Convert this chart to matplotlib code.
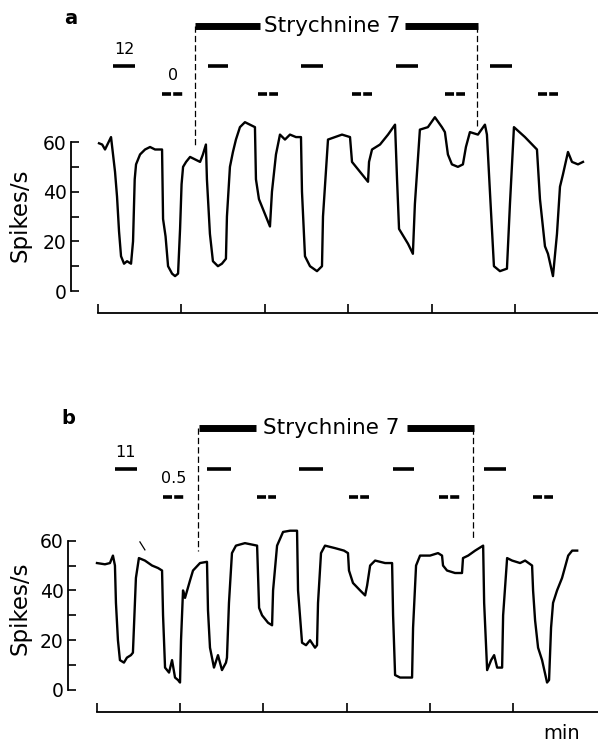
import matplotlib
matplotlib.use("Agg")
import matplotlib.pyplot as plt

# --- data (time in min, rate in spikes/s) ---
t_a = [0.06, 0.25, 0.42, 0.60, 0.78, 0.90, 1.02, 1.14, 1.26, 1.38, 1.56, 1.74, 1.98, 2.10, 2.20,
       2.28, 2.52, 2.82, 3.12, 3.42, 3.84, 3.90, 4.05, 4.20, 4.44, 4.62, 4.80, 4.92, 5.01, 5.10,
       5.28, 5.52, 5.82, 6.12, 6.29, 6.47, 6.53, 6.71, 6.89, 7.19, 7.43, 7.67, 7.73, 7.91, 8.09,
       8.27, 8.51, 8.81, 9.11, 9.41, 9.47, 9.65, 9.95, 10.31, 10.43, 10.67, 10.91, 11.21, 11.51,
       11.87, 12.17, 12.23, 12.41, 12.71, 13.13, 13.43, 13.49, 13.79, 14.21, 14.63, 15.11, 15.23,
       15.71, 16.19, 16.25, 16.43, 16.91, 17.39, 17.81, 17.93, 18.05, 18.23, 18.59, 18.88, 19.00,
       19.30, 19.78, 20.20, 20.62, 20.80, 20.98, 21.22, 21.58, 21.88, 22.06, 22.30, 22.78, 23.20,
       23.32, 23.50, 23.74, 24.10, 24.52, 24.70, 24.94, 25.60, 26.32, 26.50, 26.80, 26.98, 27.28,
       27.52, 27.70, 27.88, 28.18, 28.42, 28.78, 29.08]
rate_a = [59.5, 59, 57, 59.5, 62, 55, 48, 38, 24, 14, 11, 12, 11, 20, 45,
          51, 55, 57, 58, 57, 57, 29, 22, 10, 7, 6, 7, 25, 43, 50,
          52, 54, 53, 52, 55, 59, 45, 23, 12, 10, 11, 13, 30, 50, 56,
          61, 66, 68, 67, 66, 45, 37, 32, 26, 40, 55, 63, 61, 63,
          62, 62, 40, 14, 10, 8, 10, 30, 61, 62, 63, 62, 52,
          48, 44, 52, 57, 59, 63, 67, 45, 25, 23, 19, 15, 35,
          65, 66, 70, 66, 64, 55, 51, 50, 51, 58, 64, 63, 67,
          63, 40, 10, 8, 9, 35, 66, 62, 57, 37, 18, 15, 6,
          23, 42, 47, 56, 52, 51, 52]

t_b = [0.00, 0.48, 0.78, 0.96, 1.08, 1.14, 1.26, 1.38, 1.62, 1.80, 2.04, 2.16, 2.22, 2.34, 2.52,
       2.88, 3.31, 3.67, 3.91, 3.97, 4.09, 4.33, 4.51, 4.69, 4.87, 4.99, 5.05, 5.17, 5.29, 5.59,
       5.77, 6.19, 6.61, 6.67, 6.79, 7.03, 7.27, 7.51, 7.75, 7.81, 7.93, 8.11, 8.35, 8.89, 9.62,
       9.74, 9.92, 10.28, 10.52, 10.58, 10.82, 11.18, 11.60, 12.02, 12.08, 12.32, 12.56, 12.80,
       13.10, 13.22, 13.28, 13.46, 13.70, 14.30, 14.84, 15.08, 15.14, 15.38, 15.81, 16.11, 16.23,
       16.41, 16.71, 17.31, 17.73, 17.79, 17.91, 18.21, 18.57, 18.93, 18.99, 19.17, 19.41, 20.01,
       20.49, 20.73, 20.79, 21.03, 21.51, 21.93, 21.99, 22.30, 22.72, 23.20, 23.26, 23.44, 23.68,
       23.86, 24.04, 24.34, 24.40, 24.64, 24.94, 25.42, 25.72, 26.14, 26.20, 26.32, 26.50, 26.74,
       27.04, 27.16, 27.28, 27.40, 27.64, 27.94, 28.31, 28.55, 28.85]
rate_b = [51, 50.5, 51, 54, 50, 35, 20, 12, 11, 13, 14, 15, 25, 45, 53,
          52, 50, 49, 48, 30, 9, 7, 12, 5, 4, 3, 20, 40, 37, 44,
          48, 51, 51.5, 32, 17, 9, 14, 8, 11, 13, 35, 55, 58, 59, 58,
          33, 30, 27, 26, 40, 58, 63.5, 64, 64, 40, 19, 18, 20,
          17, 18, 35, 55, 58, 57, 56, 55, 48, 43, 40, 38, 42,
          50, 52, 51, 51, 30, 6, 5, 5, 5, 25, 50, 54, 54,
          55, 54, 50, 48, 47, 47, 53, 54, 56, 58, 35, 8, 12,
          14, 9, 9, 30, 53, 52, 51, 52, 50, 40, 28, 17, 12,
          3, 4, 25, 35, 40, 45, 54, 56, 56]

# drug application periods (start, end) in min
strych_a = (5.82, 22.72)
strych_a_bars = [(5.82, 9.71), (18.41, 22.78)]
solid_a = [(0.90, 2.22), (6.59, 7.79), (12.17, 13.49), (17.87, 19.18), (23.50, 24.82)]
dash_a = [(3.84, 5.10), (9.59, 10.79), (15.23, 16.43), (20.80, 22.00), (26.38, 27.58)]

strych_b = (6.07, 22.60)
strych_b_bars = [(6.13, 9.56), (18.63, 22.66)]
solid_b = [(1.08, 2.40), (6.61, 8.05), (12.14, 13.58), (17.79, 19.05), (23.26, 24.58)]
dash_b = [(3.97, 5.23), (9.62, 10.76), (15.14, 16.35), (20.55, 21.81), (26.20, 27.40)]

ticks_min = [0, 5, 10, 15, 20, 25]

W, H = 598, 744
fig = plt.figure(figsize=(W / 100, H / 100), dpi=100)


def panel(rect, xlim, ylim, t, rate, strych, strych_bars, solid, dash, ends,
          levels, lab1, lab2, letter, ylab_pos):
    ax = fig.add_axes(rect)
    ax.set_xlim(*xlim)
    ax.set_ylim(*ylim)
    ax.plot(t, rate, color='black', lw=1.7, solid_joinstyle='round')
    y_st, y_so, y_da = levels
    for s, e in strych_bars:
        ax.plot([s, e], [y_st, y_st], color='black', lw=5, solid_capstyle='butt', clip_on=False)
    ax.plot([strych[0], strych[0]], [y_st, ends[0]], color='black', lw=0.9, dashes=(5, 2.5))
    ax.plot([strych[1], strych[1]], [y_st, ends[1]], color='black', lw=0.9, dashes=(5, 2.5))
    ax.text((strych_bars[0][1] + strych_bars[1][0]) / 2, y_st, 'Strychnine 7',
            fontsize=15.5, ha='center', va='center')
    for s, e in solid:
        ax.plot([s, e], [y_so, y_so], color='black', lw=2.6, solid_capstyle='butt')
    for s, e in dash:
        ax.plot([s, e], [y_da, y_da], color='black', lw=2.6, dashes=(2.5, 0.6),
                dash_capstyle='butt')
    ax.text((solid[0][0] + solid[0][1]) / 2, y_so + 6.5, lab1, fontsize=11.5, ha='center', va='center')
    ax.text((dash[0][0] + dash[0][1]) / 2, y_da + 7.5, lab2, fontsize=11.5, ha='center', va='center')
    ax.text(xlim[0], ylim[1] - 5.5, letter, fontsize=14, fontweight='bold', ha='center', va='center')
    ax.text(ylab_pos[0], ylab_pos[1], 'Spikes/s', fontsize=16.5, rotation=90,
            ha='center', va='center', clip_on=False)

    for side in ['top', 'right']:
        ax.spines[side].set_visible(False)
    ax.spines['left'].set_bounds(0, 60)
    ax.spines['bottom'].set_bounds(0, xlim[1])
    for side in ['left', 'bottom']:
        ax.spines[side].set_linewidth(1.3)
    ax.set_yticks([0, 20, 40, 60])
    ax.set_yticks([10, 30, 50], minor=True)
    ax.set_xticks(ticks_min)
    ax.set_xticklabels([])
    ax.tick_params(axis='y', which='both', direction='in', length=5.5, width=1.2,
                   labelsize=13.5, pad=3)
    ax.tick_params(axis='x', direction='in', length=6.5, width=1.2)
    return ax


ax_a = panel([71 / W, 1 - 313 / H, 527 / W, 308 / H], (-1.62, 29.98), (-8.86, 115.2),
             t_a, rate_a, strych_a, strych_a_bars, solid_a, dash_a, (58, 65.6),
             (106.7, 90.6, 79.3), '12', '0', 'a', (-4.68, 30.6))

ax_b = panel([68 / W, 1 - 711.7 / H, 530 / W, 306.7 / H], (-1.74, 30.1), (-8.72, 114.5),
             t_b, rate_b, strych_b, strych_b_bars, solid_b, dash_b, (56, 61),
             (105.3, 88.8, 77.6), '11', '0.5', 'b', (-4.63, 33))
ax_b.plot([2.58, 2.88], [59.5, 56.3], color='black', lw=0.9)
ax_b.text(27.9, -17.3, 'min', fontsize=14, ha='center', va='center', clip_on=False)

fig.savefig('out.png', dpi=100)
